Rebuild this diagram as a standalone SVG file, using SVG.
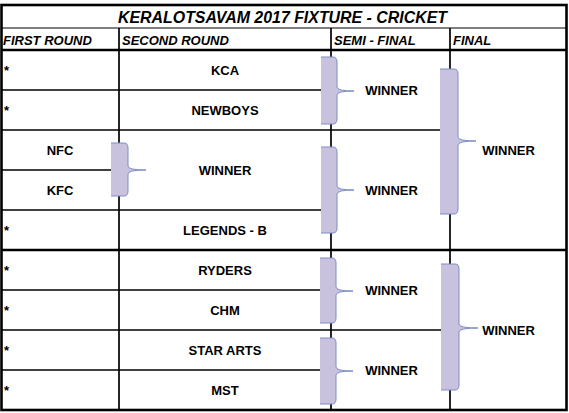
<svg xmlns="http://www.w3.org/2000/svg" width="569" height="413" viewBox="0 0 569 413">
<style>
.bg{fill:#ffffff}
.ln{stroke:#000;stroke-width:1.7;fill:none}
.thk{stroke:#000;stroke-width:2.6;fill:none}
.thin{stroke:#000;stroke-width:1.2;fill:none}
.title{font-family:"Liberation Sans",Arial,sans-serif;font-weight:bold;font-style:italic;font-size:16px;fill:#000}
.hdr{font-family:"Liberation Sans",Arial,sans-serif;font-weight:bold;font-style:italic;font-size:13px;fill:#000}
.t{font-family:"Liberation Sans",Arial,sans-serif;font-weight:bold;font-size:13px;fill:#000;text-anchor:middle}
.st{font-family:"Liberation Sans",Arial,sans-serif;font-weight:bold;font-size:13px;fill:#000}
.br{fill:#c8c2de;stroke:#7b8ec4;stroke-width:1}
</style>
<rect class="bg" x="0" y="0" width="569" height="413"/>
<g id="grid">
<line class="thin" x1="1.5" y1="28" x2="566.5" y2="28"/>
<line class="ln" x1="119" y1="28" x2="119" y2="410"/>
<line class="ln" x1="331" y1="28" x2="331" y2="410"/>
<line class="ln" x1="450" y1="28" x2="450" y2="410"/>
<line class="ln" x1="1.5" y1="90" x2="331" y2="90"/>
<line class="ln" x1="1.5" y1="130" x2="450" y2="130"/>
<line class="ln" x1="1.5" y1="170" x2="119" y2="170"/>
<line class="ln" x1="1.5" y1="210" x2="331" y2="210"/>
<line class="ln" x1="1.5" y1="290" x2="331" y2="290"/>
<line class="ln" x1="1.5" y1="330" x2="450" y2="330"/>
<line class="ln" x1="1.5" y1="370" x2="331" y2="370"/>
<line class="thk" x1="1.5" y1="50" x2="566.5" y2="50"/>
<line class="thk" x1="1.5" y1="250" x2="566.5" y2="250"/>
<rect class="thk" x="1.5" y="5" width="565" height="405"/>
</g>
<g id="title"><text class="title" x="282.5" y="23" text-anchor="middle" textLength="329" lengthAdjust="spacingAndGlyphs">KERALOTSAVAM 2017 FIXTURE - CRICKET</text></g>
<g id="headers">
<text class="hdr" x="3" y="45">FIRST ROUND</text>
<text class="hdr" x="122" y="45">SECOND ROUND</text>
<text class="hdr" x="334" y="45">SEMI - FINAL</text>
<text class="hdr" x="453" y="45">FINAL</text>
</g>
<g id="first-round">
<text class="st" x="4" y="75">*</text>
<text class="st" x="4" y="115">*</text>
<text class="t" x="60" y="155">NFC</text>
<text class="t" x="60" y="195">KFC</text>
<text class="st" x="4" y="235">*</text>
<text class="st" x="4" y="275">*</text>
<text class="st" x="4" y="315">*</text>
<text class="st" x="4" y="355">*</text>
<text class="st" x="4" y="395">*</text>
</g>
<g id="second-round">
<g id="kca"><text class="t" x="225" y="75">KCA</text></g>
<g id="newboys"><text class="t" x="225" y="115">NEWBOYS</text></g>
<g id="r1-winner"><text class="t" x="225" y="175">WINNER</text></g>
<g id="legends-b"><text class="t" x="225" y="235">LEGENDS - B</text></g>
<g id="ryders"><text class="t" x="225" y="275">RYDERS</text></g>
<g id="chm"><text class="t" x="225" y="315">CHM</text></g>
<g id="star-arts"><text class="t" x="225" y="355">STAR ARTS</text></g>
<g id="mst"><text class="t" x="225" y="395">MST</text></g>
</g>
<g id="semi-final">
<g id="sf1"><text class="t" x="391.5" y="95">WINNER</text></g>
<g id="sf2"><text class="t" x="391.5" y="195">WINNER</text></g>
<g id="sf3"><text class="t" x="391.5" y="295">WINNER</text></g>
<g id="sf4"><text class="t" x="391.5" y="375">WINNER</text></g>
</g>
<g id="final">
<g id="f1"><text class="t" x="508.5" y="155">WINNER</text></g>
<g id="f2"><text class="t" x="508.5" y="335">WINNER</text></g>
</g>
<g id="connectors">
<path class="br" d="M111,143 H124 Q128,143 128,148 V166 Q128,170 146,170 Q128,170 128,174 V191 Q128,196 124,196 H111"/>
<path class="br" d="M321,57 H333 Q337,57 337,62 V87 Q337,91 354,91 Q337,91 337,95 V119 Q337,124 333,124 H321"/>
<path class="br" d="M321,147 H333 Q337,147 337,152 V186 Q337,190 354,190 Q337,190 337,194 V228 Q337,233 333,233 H321"/>
<path class="br" d="M440,69 H454 Q458,69 458,74 V137 Q458,141 476,141 Q458,141 458,145 V209 Q458,214 454,214 H440"/>
<path class="br" d="M320,258 H332 Q336,258 336,263 V287 Q336,291 353,291 Q336,291 336,295 V318 Q336,323 332,323 H320"/>
<path class="br" d="M320,338 H332 Q336,338 336,343 V367 Q336,371 353,371 Q336,371 336,375 V399 Q336,404 332,404 H320"/>
<path class="br" d="M441,264 H455 Q459,264 459,269 V324 Q459,328 478,328 Q459,328 459,332 V385 Q459,390 455,390 H441"/>
</g>
</svg>
